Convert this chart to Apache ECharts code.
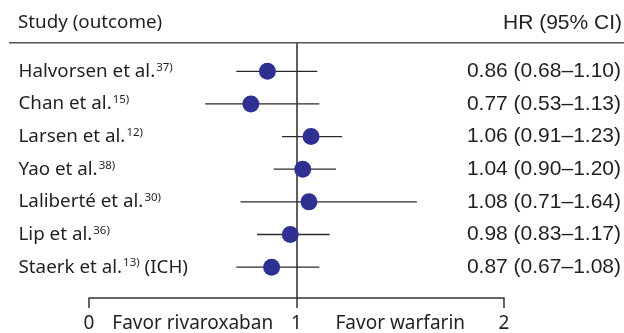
<!DOCTYPE html>
<html>
<head>
<meta charset="utf-8">
<script src="https://cdn.jsdelivr.net/npm/echarts@6/dist/echarts.min.js"></script>
<style>
html,body{margin:0;padding:0;background:#fff;}
#c{width:624px;height:333px;}
</style>
</head>
<body>
<div id="c"></div>
<script>
// ---- data ----
const studies = ['Halvorsen et al.', 'Chan et al.', 'Larsen et al.', 'Yao et al.', 'Laliberté et al.', 'Lip et al.', 'Staerk et al.'];
const refs = ['37)', '15)', '12)', '38)', '30)', '36)', '13)'];
const suffixes = ['', '', '', '', '', '', ' (ICH)'];
const hr = [0.86, 0.78, 1.07, 1.03, 1.06, 0.97, 0.88];
const ciLow = [0.71, 0.56, 0.93, 0.89, 0.73, 0.81, 0.71];
const ciHigh = [1.10, 1.11, 1.22, 1.19, 1.58, 1.16, 1.11];
const hrText = ['0.86 (0.68–1.10)', '0.77 (0.53–1.13)', '1.06 (0.91–1.23)', '1.04 (0.90–1.20)', '1.08 (0.71–1.64)', '0.98 (0.83–1.17)', '0.87 (0.67–1.08)'];
const xTickValues = [0, 0.5, 1, 1.5, 2];
const xTickLabels = ['0', 'Favor rivaroxaban', '1', 'Favor warfarin', '2'];
const xTickMarks = [0, 1, 2];
const rowIdx = [0, 1, 2, 3, 4, 5, 6];

const LEFT_FONT = '"Noto Sans", sans-serif';
const RIGHT_FONT = '"Liberation Sans", Arial, sans-serif';
const TXT = '#231f20';

const chart = echarts.init(document.getElementById('c'), null, {renderer: 'canvas'});

const yCommon = {
  type: 'value', min: -0.876, max: 6.945, inverse: true, gridIndex: 0,
  axisLine: {show: false}, axisTick: {show: false}, splitLine: {show: false}
};

const option = {
  animation: false,
  backgroundColor: '#fff',
  title: [
    {text: 'Study (outcome)', left: 18, top: 13, padding: 0,
     textStyle: {fontFamily: LEFT_FONT, fontSize: 18.8, fontWeight: 'normal', color: TXT}},
    {text: 'HR (95% CI)', right: 2, top: 13, padding: 0,
     textStyle: {fontFamily: RIGHT_FONT, fontSize: 21, fontWeight: 'normal', color: TXT}}
  ],
  graphic: [
    {type: 'line', shape: {x1: 9, y1: 42.7, x2: 624, y2: 42.7},
     style: {stroke: '#555', lineWidth: 1.6}, z: 100}
  ],
  grid: {left: 89, right: 119, top: 42.7, bottom: 33.7, containLabel: false},
  xAxis: {
    type: 'value', min: 0, max: 2,
    axisLine: {show: true, onZero: false, lineStyle: {color: '#333', width: 1.5}},
    axisTick: {show: true, customValues: xTickMarks, length: 10, lineStyle: {color: '#333', width: 1.5}},
    splitLine: {show: false},
    axisLabel: {
      customValues: xTickValues, margin: 16,
      fontFamily: LEFT_FONT, fontSize: 19, color: TXT,
      formatter: function (v) { const i = xTickValues.indexOf(v); return i >= 0 ? xTickLabels[i] : ''; }
    }
  },
  yAxis: [
    Object.assign({}, yCommon, {
      position: 'left',
      axisLabel: {
        customValues: rowIdx, align: 'left', margin: 70.5,
        formatter: function (v) {
          const i = Math.round(v);
          if (!studies[i]) return '';
          return '{n|' + studies[i] + '}{s|' + refs[i] + '}' + (suffixes[i] ? '{n|' + suffixes[i] + '}' : '');
        },
        rich: {
          n: {fontFamily: LEFT_FONT, fontSize: 18.8, color: TXT, lineHeight: 22},
          s: {fontFamily: LEFT_FONT, fontSize: 11.5, color: TXT, lineHeight: 22, verticalAlign: 'top', padding: [1, 0, 0, 1]}
        }
      }
    }),
    Object.assign({}, yCommon, {
      position: 'right',
      axisLabel: {
        customValues: rowIdx, align: 'right', margin: 117,
        fontFamily: RIGHT_FONT, fontSize: 21, color: TXT,
        formatter: function (v) { const i = Math.round(v); return hrText[i] || ''; }
      }
    })
  ],
  series: [
    {
      type: 'custom', xAxisIndex: 0, yAxisIndex: 0, z: 2,
      data: ciLow.map(function (lo, i) { return [lo, ciHigh[i], rowIdx[i]]; }),
      encode: {x: [0, 1], y: 2},
      renderItem: function (params, api) {
        const a = api.coord([api.value(0), api.value(2)]);
        const b = api.coord([api.value(1), api.value(2)]);
        return {type: 'line', shape: {x1: a[0], y1: a[1], x2: b[0], y2: b[1]},
                style: {stroke: '#2a2a2a', lineWidth: 1.3}};
      }
    },
    {
      type: 'scatter', xAxisIndex: 0, yAxisIndex: 0, z: 5,
      symbol: 'circle', symbolSize: 17,
      itemStyle: {color: '#2e3192', opacity: 1},
      data: hr.map(function (v, i) { return [v, rowIdx[i]]; }),
      markLine: {
        silent: true, symbol: ['none', 'none'], label: {show: false},
        lineStyle: {color: '#2a2a2a', width: 1.5, type: 'solid'},
        data: [{xAxis: 1}]
      }
    }
  ]
};
chart.setOption(option);
</script>
</body>
</html>
